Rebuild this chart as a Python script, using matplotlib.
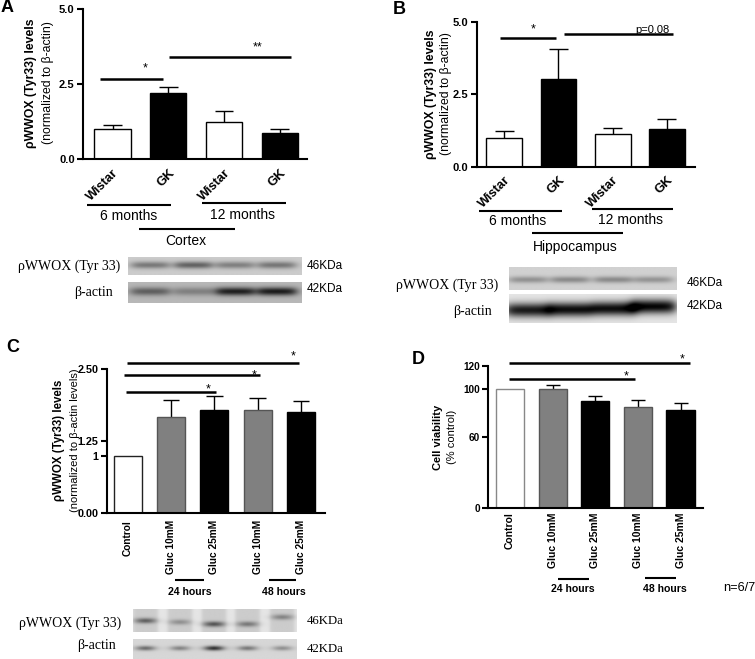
import numpy as np
import matplotlib
matplotlib.use('Agg')
import matplotlib.pyplot as plt
from matplotlib.lines import Line2D

plt.rcParams['font.family'] = ['Liberation Sans', 'DejaVu Sans']
SERIF = ['Liberation Serif', 'DejaVu Serif']

# ---------------- data ----------------
ab_labels = ['Wistar', 'GK', 'Wistar', 'GK']
A_mean = [1.0, 2.19, 1.24, 0.88]
A_sem = [0.13, 0.22, 0.36, 0.11]
B_mean = [0.98, 3.01, 1.12, 1.30]
B_sem = [0.25, 1.06, 0.22, 0.33]

cd_labels = ['Control', 'Gluc 10mM', 'Gluc 25mM', 'Gluc 10mM', 'Gluc 25mM']
C_mean = [1.0, 1.667, 1.794, 1.794, 1.753]
C_sem = [0.0, 0.30, 0.25, 0.20, 0.19]
D_mean = [100.0, 100.1, 90.6, 85.2, 82.4]
D_sem = [0.0, 3.9, 3.9, 5.9, 5.9]

A_ticks = [0, 2.5, 5.0]
A_ticklabels = ['0.0', '2.5', '5.0']
C_ticks = [0, 1, 1.25, 2.5]
C_ticklabels = ['0.00', '1', '1.25', '2.50']
D_ticks = [0, 60, 100, 120]
D_ticklabels = ['0', '60', '100', '120']

# significance brackets: (x0, x1, y, label, label_x)
A_sig = [(-0.22, 0.91, 2.67, '*', 0.58), (1.01, 3.21, 3.41, '**', 2.60)]
B_sig = [(-0.08, 0.95, 4.45, '*', 0.53), (1.10, 3.11, 4.57, 'p=0.08', 2.74)]
C_sig = [(-0.05, 2.04, 2.10, '*', 1.85), (-0.09, 3.06, 2.396, '*', 2.92),
         (-0.02, 3.97, 2.616, '*', 3.82)]
D_sig = [(-0.02, 2.93, 108.8, '*', 2.72), (-0.02, 4.23, 122.5, '*', 4.03)]

# western blot band intensities (darkness) per lane
A_wwox_band = [0.33, 0.42, 0.30, 0.34]
A_actin_band = [0.35, 0.22, 0.60, 0.62]
B_wwox_band = [0.25, 0.28, 0.28, 0.24]
B_actin_band = [0.80, 0.85, 0.85, 0.88]
C_wwox_band = [0.45, 0.25, 0.50, 0.35, 0.30]
C_actin_band = [0.45, 0.35, 0.70, 0.40, 0.30]

# ---------------- layout helpers ----------------
W, H = 755, 659
fig = plt.figure(figsize=(W / 100, H / 100), dpi=100)


def rect(l, t, r, b):
    return [l / W, 1 - b / H, (r - l) / W, (b - t) / H]


def ftext(x, y, s, **kw):
    fig.text(x / W, 1 - y / H, s, **kw)


def fline(x0, x1, y, lw=1.5):
    fig.add_artist(Line2D([x0 / W, x1 / W], [1 - y / H, 1 - y / H], color='k', lw=lw,
                          transform=fig.transFigure, solid_capstyle='butt'))


def make_axes(l, t, r, b, xlim, ylim):
    ax = fig.add_axes(rect(l, t, r, b))
    ax.set_xlim(*xlim)
    ax.set_ylim(*ylim)
    for s in ['top', 'right']:
        ax.spines[s].set_visible(False)
    for s in ['left', 'bottom']:
        ax.spines[s].set_linewidth(1.5)
    ax.tick_params(axis='y', direction='out', length=4, width=1.5, pad=2)
    ax.tick_params(axis='x', length=0)
    return ax


def bars(ax, means, sems, colors, edges, width, capw):
    x = np.arange(len(means))
    ax.bar(x, means, width=width, color=colors, edgecolor=edges, linewidth=1.0, zorder=2)
    for xi, m, s in zip(x, means, sems):
        if s > 0:
            ax.vlines(xi, m, m + s, color='k', lw=1.0, zorder=1)
            ax.hlines(m + s, xi - capw, xi + capw, color='k', lw=1.0, zorder=1)
    return x


def sig(ax, items, gaps, fs=9):
    for (x0, x1, y, lab, lx), g in zip(items, gaps):
        ax.plot([x0, x1], [y, y], color='k', lw=1.8, clip_on=False, solid_capstyle='butt')
        if lab.startswith('p'):
            ax.annotate(lab, xy=(lx, y), xytext=(0, 1.2), textcoords='offset points',
                        ha='center', va='baseline', fontsize=8, annotation_clip=False)
        else:
            ax.annotate(lab, xy=(lx, y), xytext=(0, (g - 7.0) / 1.389),
                        textcoords='offset points', ha='center', va='baseline',
                        fontsize=fs, annotation_clip=False)


def blot(l, t, r, b, bg, lanes, band_y, band_sy, intens, hw, gap_bg=None, lane_hw=None):
    w = int((r - l) * 3)
    h = int((b - t) * 3)
    xs = np.linspace(0, 1, w)[None, :]
    ys = np.linspace(0, 1, h)[:, None]
    if gap_bg is None:
        img = np.full((h, w), bg, dtype=float)
    else:
        img = np.full((h, w), gap_bg, dtype=float)
        for cx in lanes:
            m = 1 / (1 + np.exp((np.abs(xs - cx) - lane_hw) / 0.006))
            img = img - (gap_bg - bg) * m * np.ones_like(ys)
    for cx, by, I in zip(lanes, band_y, intens):
        px = 1 / (1 + np.exp((np.abs(xs - cx) - hw) / 0.018))
        py = np.exp(-((ys - by) / band_sy) ** 2)
        img = img - I * px * py
    ax = fig.add_axes(rect(l, t, r, b))
    ax.imshow(np.clip(img, 0, 1), cmap='gray', vmin=0, vmax=1, aspect='auto',
              interpolation='bilinear')
    ax.axis('off')
    return ax


# ---------------- Panel A ----------------
axA = make_axes(83, 9, 307, 159, (-0.53, 3.49), (0, 5.0))
xA = bars(axA, A_mean, A_sem, ['white', 'black', 'white', 'black'], 'black', 0.65, 0.17)
axA.set_yticks(A_ticks)
axA.set_yticklabels(A_ticklabels, fontsize=8, fontweight='bold')
axA.set_xticks(xA)
axA.set_xticklabels(ab_labels, rotation=45, ha='right', va='top', rotation_mode='anchor',
                    fontsize=9.3, fontweight='bold')
axA.tick_params(axis='x', pad=6)
sig(axA, A_sig, [14, 13.7])
ftext(31, 83, 'ρWWOX (Tyr33) levels', rotation=90, ha='center', va='center',
      fontsize=8.8, fontweight='bold')
ftext(47.5, 83, '(normalized to β-actin)', rotation=90, ha='center', va='center', fontsize=8.8)
fline(87, 171, 205)
fline(202, 286, 203)
ftext(129, 216, '6 months', ha='center', va='center', fontsize=10)
ftext(242, 215, '12 months', ha='center', va='center', fontsize=10)
fline(139, 235, 229)
ftext(186, 241, 'Cortex', ha='center', va='center', fontsize=10)
ftext(7, 8, 'A', ha='center', va='center', fontsize=13, fontweight='bold')

lanesA = [0.127, 0.376, 0.616, 0.857]
blot(128, 257, 301.7, 275, 0.80, lanesA, [0.45] * 4, 0.20, A_wwox_band, 0.105)
blot(128, 282.3, 301.7, 303.3, 0.72, lanesA, [0.45] * 4, 0.20, A_actin_band, 0.11)
ftext(120, 266.5, 'ρWWOX (Tyr 33)', ha='right', va='center', fontsize=10, family=SERIF)
ftext(113, 293, 'β-actin', ha='right', va='center', fontsize=10, family=SERIF)
ftext(307, 266, '46KDa', ha='left', va='center', fontsize=8.5)
ftext(307, 289, '42KDa', ha='left', va='center', fontsize=8.5)

# ---------------- Panel B ----------------
axB = make_axes(476.7, 21.7, 695, 166.7, (-0.51, 3.52), (0, 5.0))
xB = bars(axB, B_mean, B_sem, ['white', 'black', 'white', 'black'], 'black', 0.66, 0.175)
axB.set_yticks(A_ticks)
axB.set_yticklabels(A_ticklabels, fontsize=8, fontweight='bold')
axB.set_xticks(xB)
axB.set_xticklabels(ab_labels, rotation=45, ha='right', va='top', rotation_mode='anchor',
                    fontsize=9.3, fontweight='bold')
axB.tick_params(axis='x', pad=5)
sig(axB, B_sig, [12.7, 0])
ftext(430.5, 94, 'ρWWOX (Tyr33) levels', rotation=90, ha='center', va='center',
      fontsize=8.8, fontweight='bold')
ftext(446.5, 94, '(normalized to β-actin)', rotation=90, ha='center', va='center', fontsize=8.8)
fline(479, 561.7, 210.7)
fline(591.7, 673, 209)
ftext(518, 221, '6 months', ha='center', va='center', fontsize=10)
ftext(631, 220, '12 months', ha='center', va='center', fontsize=10)
fline(531.7, 623, 233)
ftext(575, 247, 'Hippocampus', ha='center', va='center', fontsize=10)
ftext(399, 9, 'B', ha='center', va='center', fontsize=13, fontweight='bold')

lanesB = [0.113, 0.363, 0.622, 0.861]
blot(509.3, 267, 676.7, 290.3, 0.82, lanesB, [0.57] * 4, 0.14, B_wwox_band, 0.11)
blot(509.3, 293.7, 676.7, 323, 0.90, lanesB, [0.57, 0.55, 0.52, 0.45], 0.24, B_actin_band, 0.13)
ftext(498.3, 285.7, 'ρWWOX (Tyr 33)', ha='right', va='center', fontsize=10, family=SERIF)
ftext(491.7, 311.7, 'β-actin', ha='right', va='center', fontsize=10, family=SERIF)
ftext(686.7, 283.3, '46KDa', ha='left', va='center', fontsize=8.5)
ftext(686.7, 306, '42KDa', ha='left', va='center', fontsize=8.5)

# ---------------- Panel C ----------------
axC = make_axes(106.7, 369.3, 325, 513.3, (-0.49, 4.56), (0, 2.5))
xC = bars(axC, C_mean, C_sem, ['white', '#808080', 'black', '#808080', 'black'],
          ['#222222', '#555555', 'black', '#555555', 'black'], 0.65, 0.19)
axC.set_yticks(C_ticks)
axC.set_yticklabels(C_ticklabels, fontsize=7.8, fontweight='bold')
axC.set_xticks(xC)
axC.set_xticklabels(cd_labels, rotation=90, ha='center', va='top', fontsize=7.3,
                    fontweight='bold')
axC.tick_params(axis='x', pad=5)
sig(axC, C_sig, [7.3, 3.7, 9.7])
ftext(59, 440, 'ρWWOX (Tyr33) levels', rotation=90, ha='center', va='center',
      fontsize=8.3, fontweight='bold')
ftext(74.5, 440, '(normalized to β-actin levels)', rotation=90, ha='center', va='center',
      fontsize=8)
fline(175, 204, 580)
fline(269.3, 296, 580)
ftext(190, 592.3, '24 hours', ha='center', va='center', fontsize=7.6, fontweight='bold')
ftext(284, 592.3, '48 hours', ha='center', va='center', fontsize=7.6, fontweight='bold')
ftext(13, 347, 'C', ha='center', va='center', fontsize=13, fontweight='bold')

lanesC = [0.076, 0.286, 0.494, 0.699, 0.911]
blot(133.3, 609.3, 296.7, 631.7, 0.80, lanesC, [0.51, 0.57, 0.66, 0.66, 0.35], 0.12,
     C_wwox_band, 0.055, gap_bg=0.90, lane_hw=0.075)
blot(133.3, 639.3, 296.7, 659, 0.84, lanesC, [0.46] * 5, 0.12, C_actin_band, 0.05)
ftext(121.7, 623.3, 'ρWWOX (Tyr 33)', ha='right', va='center', fontsize=10, family=SERIF)
ftext(116, 645.7, 'β-actin', ha='right', va='center', fontsize=10, family=SERIF)
ftext(306.7, 621, '46KDa', ha='left', va='center', fontsize=9.2, family=SERIF)
ftext(307, 649, '42KDa', ha='left', va='center', fontsize=9.2, family=SERIF)

# ---------------- Panel D ----------------
axD = make_axes(488.3, 365.7, 702.7, 508.3, (-0.51, 4.52), (0, 120))
xD = bars(axD, D_mean, D_sem, ['white', '#808080', 'black', '#808080', 'black'],
          ['#888888', '#555555', 'black', '#555555', 'black'], 0.66, 0.165)
axD.set_yticks(D_ticks)
axD.set_yticklabels(D_ticklabels, fontsize=7.2, fontweight='bold')
axD.set_xticks(xD)
axD.set_xticklabels(cd_labels, rotation=90, ha='center', va='top', fontsize=7.5,
                    fontweight='bold')
axD.tick_params(axis='x', pad=3)
sig(axD, D_sig, [6.3, 7.7])
ftext(438.3, 437, 'Cell viability', rotation=90, ha='center', va='center',
      fontsize=8, fontweight='bold')
ftext(451.7, 437, '(% control)', rotation=90, ha='center', va='center', fontsize=8)
fline(558.3, 589.3, 579.3)
fline(645, 676, 578.3)
ftext(573.3, 589, '24 hours', ha='center', va='center', fontsize=7.6, fontweight='bold')
ftext(665, 589, '48 hours', ha='center', va='center', fontsize=7.6, fontweight='bold')
ftext(722.7, 587.7, 'n=6/7', ha='left', va='center', fontsize=9.2)
ftext(418, 360, 'D', ha='center', va='center', fontsize=13, fontweight='bold')

fig.savefig('out.png', dpi=100)
